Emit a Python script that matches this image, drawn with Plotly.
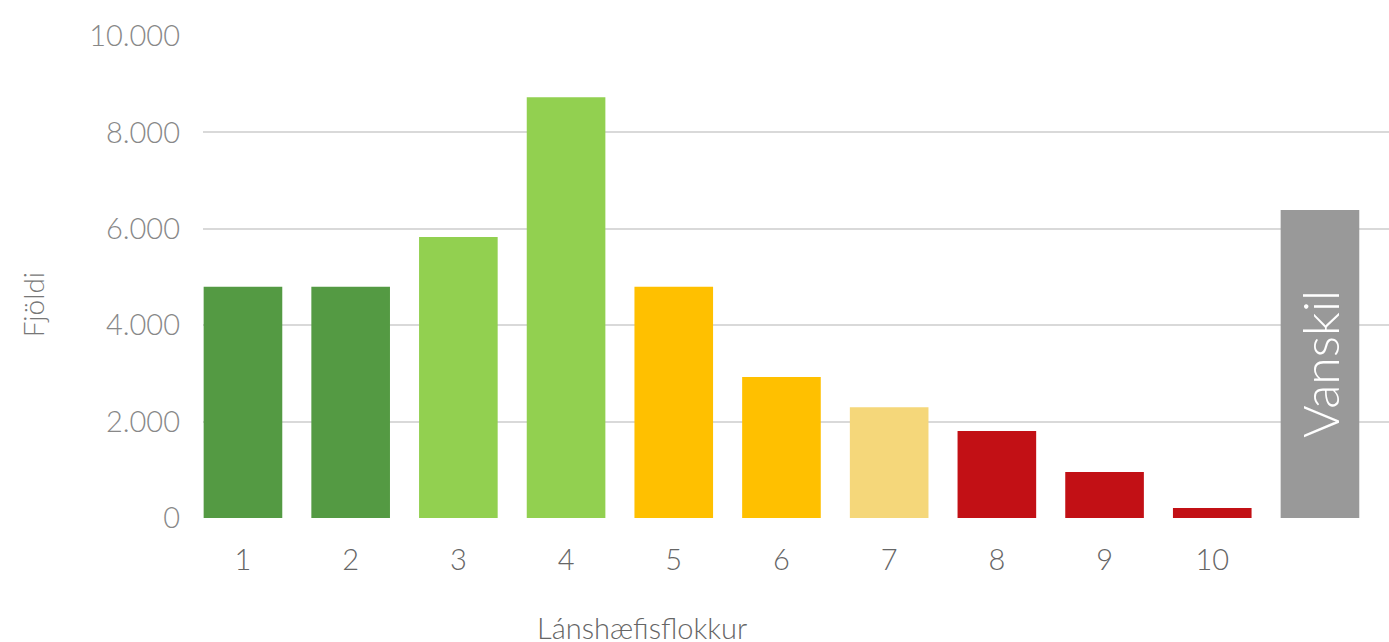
import plotly.graph_objects as go

categories = ["1", "2", "3", "4", "5", "6", "7", "8", "9", "10", "Vanskil"]
values = [4800, 4800, 5830, 8730, 4800, 2925, 2300, 1805, 955, 205, 6390]
bar_colors = ["#549A43", "#549A43", "#92D050", "#92D050", "#FFC000", "#FFC000",
              "#F5D77A", "#C21015", "#C21015", "#C21015", "#999999"]
bar_text = ["", "", "", "", "", "", "", "", "", "", "Vanskil"]
tick_labels = ["1", "2", "3", "4", "5", "6", "7", "8", "9", "10", ""]
y_ticks = [0, 2000, 4000, 6000, 8000, 10000]
y_tick_labels = ["0", "2.000", "4.000", "6.000", "8.000", "10.000"]

FONT = "Lato"

fig = go.Figure(go.Bar(
    x=categories, y=values,
    marker=dict(color=bar_colors, line=dict(width=0)),
    text=bar_text, textposition="inside", insidetextanchor="middle",
    textangle=-90,
    textfont=dict(family=FONT, size=50, color="white", weight=300),
    hoverinfo="skip",
))

fig.update_layout(
    width=1389, height=642,
    margin=dict(l=203, r=0, t=36, b=124),
    paper_bgcolor="white", plot_bgcolor="white",
    bargap=0.27, showlegend=False,
    font=dict(family=FONT),
)
fig.update_xaxes(
    type="category", range=[-0.371, 10.641],
    tickvals=categories, ticktext=tick_labels,
    tickfont=dict(family=FONT, size=29, color="#666666", weight=300),
    ticks="", showline=False, showgrid=False,
    ticklabelstandoff=22,
)
fig.update_yaxes(
    range=[0, 10000], tickvals=y_ticks, ticktext=y_tick_labels,
    tickfont=dict(family=FONT, size=29, color="#888888", weight=300),
    showgrid=True, gridcolor="#D9D9D9", gridwidth=1.5,
    zeroline=False, showline=False, ticks="",
    ticklabelstandoff=22,
)
fig.add_annotation(text="Fjöldi", xref="paper", yref="paper",
                   x=-0.143, y=0.442, textangle=-90, showarrow=False,
                   xanchor="center", yanchor="middle",
                   font=dict(family=FONT, size=28, color="#777777", weight=300))
fig.add_annotation(text="Lánshæfisflokkur", xref="paper", yref="paper",
                   x=0.37, y=-0.228, showarrow=False,
                   xanchor="center", yanchor="middle",
                   font=dict(family=FONT, size=29, color="#666666", weight=300))

fig.write_html(
    "out.html",
    config={"displayModeBar": False},
    post_script="document.body.style.margin='0';document.body.style.overflow='hidden';",
)
